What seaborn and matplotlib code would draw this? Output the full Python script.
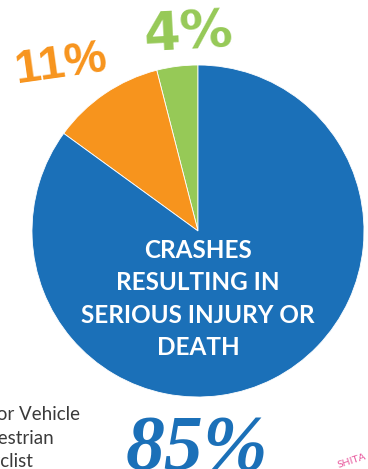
import matplotlib
matplotlib.use("Agg")
import matplotlib.pyplot as plt
import seaborn as sns

# ---------------------------
# Data
# ---------------------------
categories = ["Bicyclist", "Pedestrian", "Motor Vehicle"]
shares = [4, 11, 85]
colors = ["#96C957", "#F7941D", "#1B70B8"]
pct_labels = ["4%", "11%", "85%"]
center_label = "CRASHES\nRESULTING IN\nSERIOUS INJURY OR\nDEATH"
legend_labels = ["Motor Vehicle", "Pedestrian", "Bicyclist"]

sns.set_theme(style="white")
plt.rcParams['font.family'] = ['Lato', 'DejaVu Sans']

W, H = 368, 469
fig = plt.figure(figsize=(W / 100, H / 100), dpi=100)
ax = fig.add_axes([0, 0, 1, 1])

cx, cy, r = 198, H - 231, 166
ax.pie(shares, colors=colors, startangle=90, counterclock=True,
       center=(cx, cy), radius=r, frame=True,
       wedgeprops=dict(edgecolor="white", linewidth=0.6))
ax.set_xlim(0, W)
ax.set_ylim(0, H)
ax.set_aspect("equal")
ax.axis("off")

# center text
ax.text(cx, H - 299, center_label, color="white", fontsize=17.5,
        fontweight="bold", ha="center", va="center", linespacing=1.5)

# percentage labels
ax.text(189, H - 34, pct_labels[0], color=colors[0], fontsize=38,
        fontweight="bold", ha="center", va="center", rotation=3,
        family=["DejaVu Sans"])
ax.text(61, H - 65, pct_labels[1], color=colors[1], fontsize=34,
        fontweight="bold", ha="center", va="center", rotation=8,
        family=["Liberation Sans", "DejaVu Sans"])
ax.text(197, H - 469, pct_labels[2], color=colors[2], fontsize=56,
        fontweight="bold", fontstyle="italic", ha="center", va="baseline",
        family=["Liberation Serif", "DejaVu Serif"])

# legend text (partly outside the crop)
for i, (lab, xr) in enumerate(zip(legend_labels, [80, 54, 33])):
    ax.text(xr, H - 415 - i * 23.5, lab, color="#3a3a3a", fontsize=13.5,
            ha="right", va="center", clip_on=False)

# pink stamp fragment bottom right
ax.text(352, H - 461, "SHITA", color="#E8559B", fontsize=7.5,
        rotation=18, ha="center", va="center")

fig.savefig("out.png", dpi=100)
